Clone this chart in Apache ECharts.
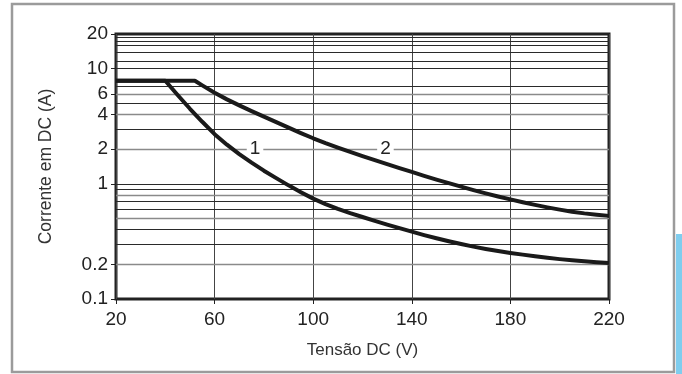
<!DOCTYPE html>
<html>
<head>
<meta charset="utf-8">
<script src="https://cdn.jsdelivr.net/npm/echarts@6/dist/echarts.min.js"></script>
<style>html,body{margin:0;padding:0;background:#fff;}#c{width:682px;height:374px;}</style>
</head>
<body>
<div id="c"></div>
<script>
// Data
var xTickLabels = [20, 60, 100, 140, 180, 220];
var yTickLabels = [0.1, 0.2, 1, 2, 4, 6, 10, 20];
var gridDark = [18.7, 17.4, 16, 13.8, 11.7, 10, 7, 5, 3, 1, 0.9, 0.7, 0.6, 0.4, 0.3];
var gridGrey = [6, 4, 2, 0.8, 0.5, 0.2];
var curve1 = [[20,7.85],[40,7.85],[45,5.91],[50,4.485],[55,3.459],[60,2.7],[65,2.188],[70,1.809],[75,1.527],[80,1.301],[85,1.12],[90,0.97],[95,0.847],[100,0.744],[105,0.666],[110,0.605],[115,0.556],[120,0.515],[125,0.477],[130,0.443],[135,0.412],[140,0.3845],[145,0.359],[150,0.337],[155,0.3174],[160,0.3],[165,0.2848],[170,0.272],[175,0.2609],[180,0.2512],[185,0.2428],[190,0.2351],[195,0.2282],[200,0.2219],[205,0.2166],[210,0.2123],[215,0.2085],[220,0.2056]];
var curve2 = [[20,7.85],[52,7.85],[55,7.157],[60,6.173],[65,5.412],[70,4.8],[75,4.281],[80,3.837],[85,3.431],[90,3.073],[95,2.76],[100,2.487],[105,2.259],[110,2.065],[115,1.895],[120,1.742],[125,1.605],[130,1.482],[135,1.37],[140,1.268],[145,1.174],[150,1.089],[155,1.014],[160,0.945],[165,0.883],[170,0.827],[175,0.777],[180,0.733],[185,0.693],[190,0.657],[195,0.625],[200,0.597],[205,0.573],[210,0.554],[215,0.539],[220,0.527]];
var curveLabels = [{name:'1', coord:[76.4, 2.0]}, {name:'2', coord:[129.3, 2.0]}];

var font = 'Liberation Sans';
var chart = echarts.init(document.getElementById('c'), null, {renderer:'canvas'});
var gridLines = gridDark.map(function(v){return {yAxis:v, lineStyle:{color:'#2a2a2a', width:1, type:'solid'}};})
  .concat(gridGrey.map(function(v){return {yAxis:v, lineStyle:{color:'#8a8a8a', width:1.3, type:'solid'}};}));
function fmt(v){ return String(+(+v).toPrecision(3)); }
chart.setOption({
  animation:false,
  backgroundColor:'#fff',
  grid:{left:116, right:73, top:34, bottom:75, show:true, borderColor:'#222', borderWidth:3, backgroundColor:'transparent'},
  xAxis:{
    type:'value', min:20, max:220, interval:20,
    name:'Tensão DC (V)', nameLocation:'middle', nameGap:43,
    nameTextStyle:{fontFamily:font, fontSize:17, color:'#333'},
    axisLine:{show:false},
    axisTick:{show:true, customValues:xTickLabels, length:5, lineStyle:{color:'#222', width:1}},
    axisLabel:{customValues:xTickLabels, fontFamily:font, fontSize:19, color:'#222', margin:11},
    splitLine:{show:true, lineStyle:{color:'#444', width:1}}
  },
  yAxis:{
    type:'log', logBase:10, min:0.1, max:20,
    name:'Corrente em DC (A)', nameLocation:'middle', nameGap:61,
    nameTextStyle:{fontFamily:font, fontSize:17.5, color:'#333'},
    axisLine:{show:false},
    axisTick:{show:true, customValues:yTickLabels, length:5, lineStyle:{color:'#222', width:1}},
    axisLabel:{customValues:yTickLabels, fontFamily:font, fontSize:19, color:'#222', margin:8, formatter:fmt},
    splitLine:{show:false}, minorTick:{show:false}, minorSplitLine:{show:false}
  },
  series:[
    {type:'line', data:[], silent:true,
     markLine:{silent:true, symbol:'none', label:{show:false}, animation:false, data:gridLines}},
    {type:'line', data:curve1, showSymbol:false, smooth:false, lineStyle:{color:'#1a1a1a', width:4, join:'round'}, z:5,
     markPoint:{symbol:'rect', symbolSize:0, silent:true,
       label:{show:true, formatter:'{b}', fontFamily:font, fontSize:19, color:'#222', backgroundColor:'#fff', padding:[0,3]},
       data:curveLabels}},
    {type:'line', data:curve2, showSymbol:false, smooth:false, lineStyle:{color:'#1a1a1a', width:4, join:'round'}, z:5}
  ],
  graphic:[
    {type:'rect', shape:{x:12, y:4, width:662, height:368}, style:{fill:'none', stroke:'#9b9b9b', lineWidth:2.5}, silent:true},
    {type:'rect', shape:{x:676, y:234, width:6, height:140}, style:{fill:'#7fcdee'}, silent:true}
  ]
});
</script>
</body>
</html>
